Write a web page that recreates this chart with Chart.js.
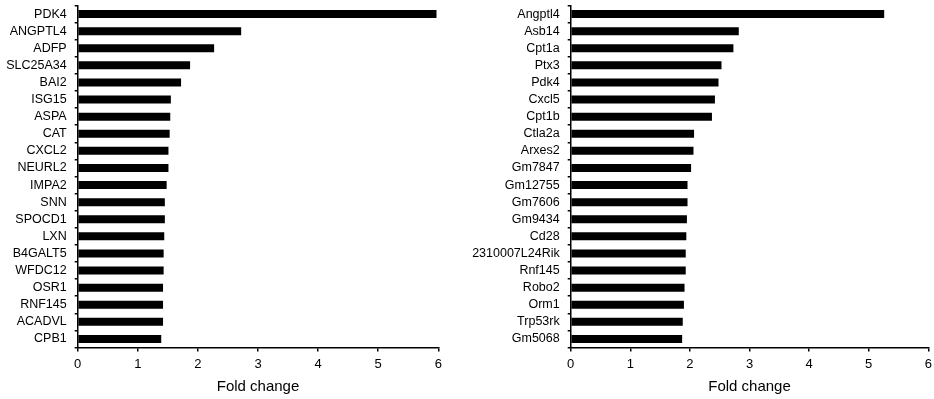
<!DOCTYPE html>
<html>
<head>
<meta charset="utf-8">
<script src="https://cdn.jsdelivr.net/npm/chart.js@4/dist/chart.umd.min.js"></script>
<style>
  html, body { margin: 0; padding: 0; background: #ffffff; }
  #wrap { position: relative; width: 934px; height: 399px; }
  #human, #mouse { position: absolute; top: 0; }
  #human { left: 0; }
  #mouse { left: 467px; }
</style>
</head>
<body>
<div id="wrap">
  <canvas id="human" width="467" height="399"></canvas>
  <canvas id="mouse" width="467" height="399"></canvas>
</div>
<script>
// Human genes, ranked by fold change
const humanGenes = ["PDK4", "ANGPTL4", "ADFP", "SLC25A34", "BAI2", "ISG15", "ASPA", "CAT", "CXCL2", "NEURL2",
  "IMPA2", "SNN", "SPOCD1", "LXN", "B4GALT5", "WFDC12", "OSR1", "RNF145", "ACADVL", "CPB1"];
const humanFold = [5.97, 2.72, 2.27, 1.87, 1.72, 1.55, 1.54, 1.53, 1.51, 1.51,
  1.48, 1.45, 1.45, 1.44, 1.43, 1.43, 1.42, 1.42, 1.42, 1.39];

// Mouse genes, ranked by fold change
const mouseGenes = ["Angptl4", "Asb14", "Cpt1a", "Ptx3", "Pdk4", "Cxcl5", "Cpt1b", "Ctla2a", "Arxes2", "Gm7847",
  "Gm12755", "Gm7606", "Gm9434", "Cd28", "2310007L24Rik", "Rnf145", "Robo2", "Orm1", "Trp53rk", "Gm5068"];
const mouseFold = [5.26, 2.82, 2.73, 2.53, 2.48, 2.42, 2.37, 2.07, 2.06, 2.02,
  1.96, 1.96, 1.95, 1.94, 1.93, 1.93, 1.91, 1.90, 1.88, 1.87];

// Shared x-axis ticks
const foldTicks = [0, 1, 2, 3, 4, 5, 6];
const axisTitle = "Fold change";

const FONT = "'Liberation Sans', Arial, Helvetica, sans-serif";

function buildChart(id, labels, values, yAxisWidth, rightPad) {
  return new Chart(document.getElementById(id), {
    type: 'bar',
    data: {
      labels: labels,
      datasets: [{
        data: values,
        backgroundColor: '#000000',
        borderWidth: 0,
        categoryPercentage: 1,
        barPercentage: 0.47
      }]
    },
    options: {
      indexAxis: 'y',
      responsive: false,
      animation: false,
      devicePixelRatio: 1,
      layout: { padding: { top: 5.5, right: rightPad, bottom: 0, left: 0 } },
      plugins: { legend: { display: false }, tooltip: { enabled: false } },
      scales: {
        x: {
          type: 'linear',
          min: foldTicks[0],
          max: foldTicks[foldTicks.length - 1],
          afterBuildTicks: (scale) => { scale.ticks = foldTicks.map(v => ({ value: v })); },
          afterFit: (scale) => { scale.height = 51.5; scale.paddingLeft = 0; scale.paddingRight = 0; },
          border: { display: true, color: '#000000', width: 1.5 },
          grid: { drawOnChartArea: false, drawTicks: true, tickLength: 4, color: '#000000', lineWidth: 1.5 },
          ticks: { color: '#000000', font: { family: FONT, size: 13 }, padding: 5 },
          title: { display: true, text: axisTitle, color: '#000000', font: { family: FONT, size: 15 },
                   padding: { top: 3, bottom: 3 } }
        },
        y: {
          afterFit: (scale) => { scale.width = yAxisWidth; scale.paddingTop = 0; scale.paddingBottom = 0; },
          border: { display: true, color: '#000000', width: 1.5 },
          grid: { drawOnChartArea: false, drawTicks: true, tickLength: 3, color: '#000000', lineWidth: 1.5, offset: true },
          ticks: { color: '#000000', font: { family: FONT, size: 12.5 }, padding: 8, autoSkip: false }
        }
      }
    }
  });
}

buildChart('human', humanGenes, humanFold, 77.7, 28.7);
buildChart('mouse', mouseGenes, mouseFold, 103.7, 5.7);
</script>
</body>
</html>
